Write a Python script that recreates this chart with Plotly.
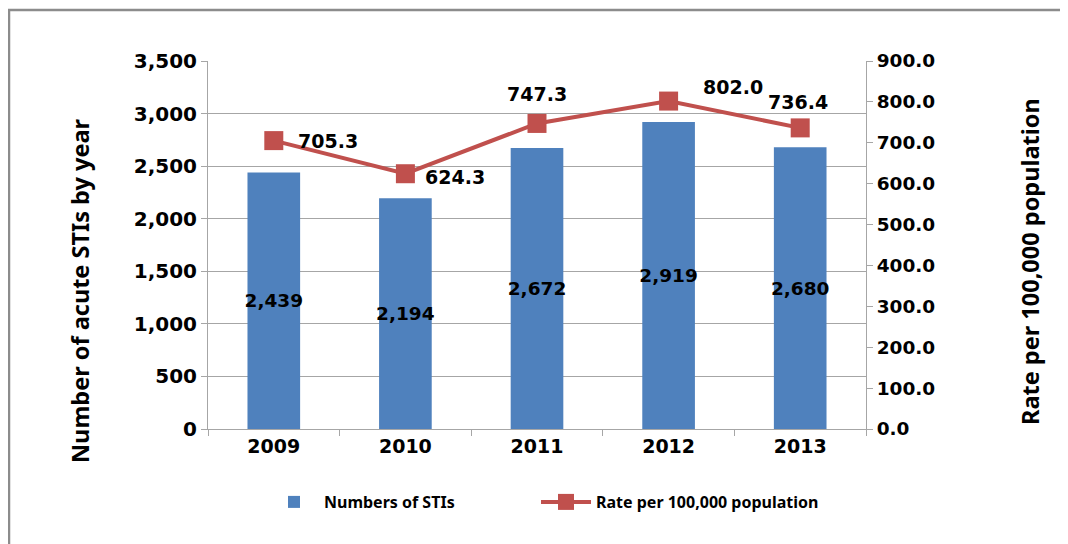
import plotly.graph_objects as go

years = ["2009", "2010", "2011", "2012", "2013"]
sti_counts = [2439, 2194, 2672, 2919, 2680]
rates = [705.3, 624.3, 747.3, 802.0, 736.4]
# label offsets (pixels) for the rate labels, as placed in the source
rate_label_dx = [54, 50, 0, 64, -2]
rate_label_dy = [0, -3, 29, 14, 26]

TICKFONT = "DejaVu Sans"
TITLEFONT = "Noto Sans"
BLUE = "#4F81BD"
RED = "#C0504D"
GRID = "#A6A6A6"

# plot area in absolute page pixels (page has an 8px body margin)
PL, PR, PT, PB = 208, 866, 61, 429
PW, PH = PR - PL, PB - PT
def px(xabs):
    return (xabs - PL) / PW
def py(yabs):
    return (PB - yabs) / PH

fig = go.Figure()
fig.add_trace(go.Bar(
    x=years, y=sti_counts, name="Numbers of STIs",
    marker=dict(color=BLUE, line=dict(width=0)),
    width=0.4,
    text=[f"{v:,}" for v in sti_counts],
    textposition="inside", insidetextanchor="middle", constraintext="none",
    textfont=dict(family=TICKFONT, size=18.5, color="black", weight="bold"),
    textangle=0,
    yaxis="y", legend="legend",
))
fig.add_trace(go.Scatter(
    x=years, y=rates, name="Rate per 100,000 population",
    mode="lines+markers",
    line=dict(color=RED, width=4),
    marker=dict(symbol="square", size=19, color=RED),
    yaxis="y2", cliponaxis=False, legend="legend2",
))

annotations = []
for i, (r, dx, dy) in enumerate(zip(rates, rate_label_dx, rate_label_dy)):
    annotations.append(dict(
        x=i, y=r, xref="x", yref="y2", text=f"{r:.1f}", showarrow=False,
        xanchor="center", yanchor="middle", xshift=dx, yshift=dy,
        font=dict(family=TICKFONT, size=19, color="black", weight="bold"),
    ))
annotations.append(dict(
    x=px(80), y=py(291), xref="paper", yref="paper", textangle=-90,
    xanchor="center", yanchor="middle",
    text="Number of acute STIs by year", showarrow=False,
    font=dict(family=TITLEFONT, size=23.5, color="black", weight="bold"),
))
annotations.append(dict(
    x=px(1030), y=py(262), xref="paper", yref="paper", textangle=-90,
    xanchor="center", yanchor="middle",
    text="Rate per 100,000 population", showarrow=False,
    font=dict(family=TITLEFONT, size=23.5, color="black", weight="bold"),
))

legend_common = dict(orientation="h", xref="container", yref="container",
                     xanchor="left", y=1 - (502 - 8) / 544, yanchor="middle",
                     font=dict(family=TITLEFONT, size=16, weight="bold"),
                     itemwidth=50, bgcolor="rgba(0,0,0,0)")

fig.update_layout(
    width=1068, height=544,
    margin=dict(l=PL - 8, r=1068 - (PR - 8), t=PT - 8, b=544 - (PB - 8)),
    paper_bgcolor="white", plot_bgcolor="white",
    font=dict(family=TICKFONT, color="black"),
    showlegend=True,
    legend=dict(legend_common, x=(264 - 8) / 1068),
    legend2=dict(legend_common, x=(536 - 8) / 1068),
    annotations=annotations,
    xaxis=dict(
        type="category", range=[-0.5, 4.5],
        showline=True, linecolor=GRID, linewidth=1,
        ticks="outside", ticklen=6, tickcolor=GRID, tickson="boundaries",
        tickfont=dict(family=TICKFONT, size=19, weight="bold"),
        showgrid=False,
    ),
    yaxis=dict(
        range=[0, 3500], dtick=500, tickformat=",",
        showline=True, linecolor=GRID, linewidth=1,
        ticks="outside", ticklen=6, tickcolor=GRID,
        showgrid=True, gridcolor=GRID, gridwidth=1,
        tickfont=dict(family=TICKFONT, size=20, weight="bold"),
        zeroline=False,
    ),
    yaxis2=dict(
        range=[0, 900], dtick=100, tickformat=".1f",
        overlaying="y", side="right",
        showline=True, linecolor=GRID, linewidth=1,
        ticks="outside", ticklen=6, tickcolor=GRID,
        showgrid=False, zeroline=False,
        tickfont=dict(family=TICKFONT, size=18.5, weight="bold"),
    ),
)

# outer chart border (open at the right and bottom, as in the source)
fig.add_shape(type="rect", xref="paper", yref="paper",
              x0=px(9), x1=px(1080), y0=py(560), y1=py(10),
              line=dict(color="#8C8C8C", width=2.5), layer="below")

fig.write_html("out.html")
